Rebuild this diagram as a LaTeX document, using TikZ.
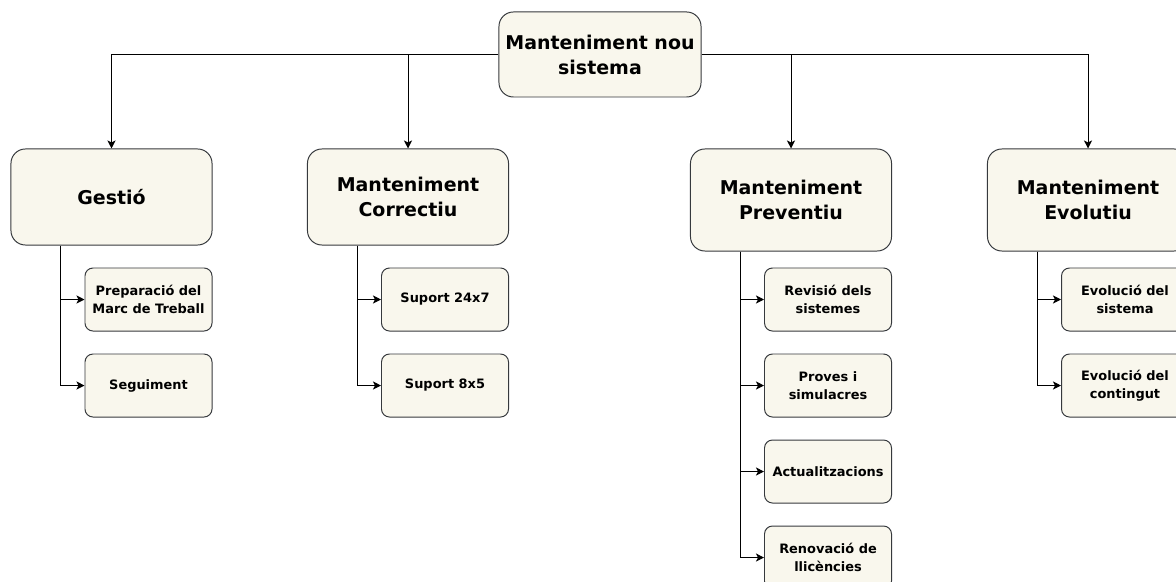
\documentclass[tikz,border=0pt]{standalone}
\usepackage{fontspec}
\setmainfont{DejaVu Sans}
\usepackage{tikz}
\usetikzlibrary{shapes, arrows.meta, positioning}
\definecolor{boxfill}{HTML}{F9F7ED}
\definecolor{boxline}{HTML}{36393D}
\tikzstyle{block} = [draw=boxline, fill=boxfill, rectangle, rounded corners=0.36cm, line width=0.7pt,
    align=center, font=\fontsize{13.5}{17.8}\selectfont\bfseries, inner sep=2pt]
\tikzstyle{branch} = [block, minimum width=5.025cm]
\tikzstyle{sub} = [block, rounded corners=0.2cm, minimum width=3.175cm, minimum height=1.575cm,
    font=\fontsize{9.2}{12.8}\selectfont\bfseries]

\begin{document}
\begin{tikzpicture}[x=0.025cm, y=-0.025cm, >={Stealth[length=0.2cm, width=0.2cm, inset=0.05cm]}, line width=0.7pt]
    \useasboundingbox (0,0) rectangle (1176,582);
    \clip (0,0) rectangle (1176,582);
    \node [block, minimum width=5.05cm, minimum height=2.125cm] (root) at (600,54.5) {Manteniment nou\\sistema};
    \node [branch, minimum height=2.4cm] (gestio) at (111.5,197) {Gestió};
    \node [branch, minimum height=2.4cm] (correctiu) at (408,197) {Manteniment\\Correctiu};
    \node [branch, minimum height=2.55cm] (preventiu) at (791,200) {Manteniment\\Preventiu};
    \node [branch, minimum height=2.55cm] (evolutiu) at (1088,200) {Manteniment\\Evolutiu};
    \draw [->] (root.west) -| (gestio);
    \draw [->] (root.west) -| (correctiu);
    \draw [->] (root.east) -| (preventiu);
    \draw [->] (root.east) -| (evolutiu);
    % Gestio
    \node [sub, below left=0.55cm and 0cm of gestio.south east] (prep) {Preparació del\\Marc de Treball};
    \node [sub, below=0.55cm of prep] (seg) {Seguiment};
    \draw [->] ([xshift=1.25cm]gestio.south west) |- (prep);
    \draw [->] ([xshift=1.25cm]gestio.south west) |- (seg);
    % Correctiu
    \node [sub, below left=0.55cm and 0cm of correctiu.south east] (s24) {Suport 24x7};
    \node [sub, below=0.55cm of s24] (s8) {Suport 8x5};
    \draw [->] ([xshift=1.25cm]correctiu.south west) |- (s24);
    \draw [->] ([xshift=1.25cm]correctiu.south west) |- (s8);
    % Preventiu
    \node [sub, below left=0.4cm and 0cm of preventiu.south east] (rev) {Revisió dels\\sistemes};
    \node [sub, below=0.55cm of rev] (proves) {Proves i\\simulacres};
    \node [sub, below=0.55cm of proves] (act) {Actualitzacions};
    \node [sub, below=0.55cm of act] (ren) {Renovació de\\llicències};
    \foreach \n in {rev, proves, act, ren}
        \draw [->] ([xshift=1.27cm]preventiu.south west) |- (\n);
    % Evolutiu
    \node [sub, below left=0.4cm and 0cm of evolutiu.south east] (evsis) {Evolució del\\sistema};
    \node [sub, below=0.55cm of evsis] (evcont) {Evolució del\\contingut};
    \draw [->] ([xshift=1.27cm]evolutiu.south west) |- (evsis);
    \draw [->] ([xshift=1.27cm]evolutiu.south west) |- (evcont);
\end{tikzpicture}
\end{document}
